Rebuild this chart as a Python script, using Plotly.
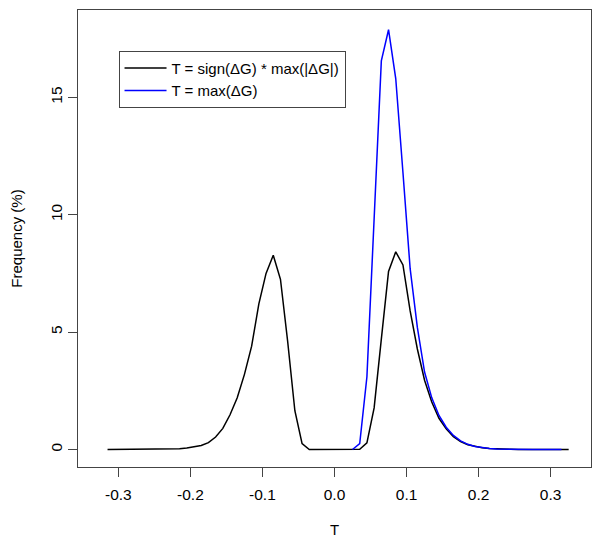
import plotly.graph_objects as go

# bin centres (step 0.01) and frequencies (%)
t_signed = [
    -0.315, -0.305, -0.295, -0.285, -0.275, -0.265, -0.255, -0.245, -0.235, -0.225,
    -0.215, -0.205, -0.195, -0.185, -0.175, -0.165, -0.155, -0.145, -0.135, -0.125,
    -0.115, -0.105, -0.095, -0.085, -0.075, -0.065, -0.055, -0.045, -0.035, -0.025,
    -0.015, -0.005, 0.005, 0.015, 0.025, 0.035, 0.045, 0.055, 0.065, 0.075,
    0.085, 0.095, 0.105, 0.115, 0.125, 0.135, 0.145, 0.155, 0.165, 0.175,
    0.185, 0.195, 0.205, 0.215, 0.225, 0.235, 0.245, 0.255, 0.265, 0.275,
    0.285, 0.295, 0.305, 0.315, 0.325,
]
freq_signed = [
    0.0, 0.0, 0.0, 0.0, 0.0, 0.0, 0.0, 0.005, 0.01, 0.02,
    0.03, 0.06, 0.1, 0.17, 0.29, 0.53, 0.9, 1.48, 2.2, 3.2,
    4.4, 6.2, 7.5, 8.27, 7.25, 4.6, 1.65, 0.25, 0.0, 0.0,
    0.0, 0.0, 0.0, 0.0, 0.0, 0.01, 0.28, 1.77, 4.7, 7.58,
    8.42, 7.86, 5.9, 4.28, 2.95, 2.02, 1.33, 0.88, 0.55, 0.34,
    0.2, 0.12, 0.07, 0.04, 0.02, 0.01, 0.005, 0.0, 0.0, 0.0,
    0.0, 0.0, 0.0, 0.0, 0.0,
]

t_max = [
    0.025, 0.035, 0.045, 0.055, 0.065, 0.075, 0.085, 0.095, 0.105, 0.115,
    0.125, 0.135, 0.145, 0.155, 0.165, 0.175, 0.185, 0.195, 0.205, 0.215,
    0.225, 0.235, 0.245, 0.255, 0.265, 0.275, 0.285, 0.295, 0.305, 0.315,
]
freq_max = [
    0.0, 0.25, 3.1, 10.0, 16.55, 17.88, 15.8, 11.8, 7.7, 5.2,
    3.3, 2.2, 1.45, 0.95, 0.6, 0.37, 0.22, 0.13, 0.08, 0.04,
    0.02, 0.01, 0.005, 0.0, 0.0, 0.0, 0.0, 0.0, 0.0, 0.0,
]

x_ticks = [-0.3, -0.2, -0.1, 0.0, 0.1, 0.2, 0.3]
y_ticks = [0, 5, 10, 15]

font = "Liberation Sans, Arial, sans-serif"

fig = go.Figure()
fig.add_trace(
    go.Scatter(
        x=t_signed,
        y=freq_signed,
        mode="lines",
        name="T = sign(\u0394G) * max(|\u0394G|)",
        line=dict(color="black", width=1.5),
    )
)
fig.add_trace(
    go.Scatter(
        x=t_max,
        y=freq_max,
        mode="lines",
        name="T = max(\u0394G)",
        line=dict(color="#0000ff", width=1.5),
    )
)

axis_common = dict(
    showgrid=False,
    zeroline=False,
    showline=True,
    linecolor="#444",
    linewidth=1,
    mirror=True,
    ticks="outside",
    ticklen=9,
    tickcolor="#444",
    automargin=False,
    tickfont=dict(family=font, size=15.5, color="black"),
)

fig.update_layout(
    width=601,
    height=543,
    paper_bgcolor="white",
    plot_bgcolor="white",
    margin=dict(l=78, r=10, t=10, b=76),
    font=dict(family=font, size=14, color="black"),
    xaxis=dict(
        range=[-0.356, 0.356],
        tickvals=x_ticks,
        ticktext=[f"{v:.1f}" for v in x_ticks],
        ticklabelstandoff=4,
        title=dict(text="T", standoff=22, font=dict(family=font, size=15)),
        **axis_common,
    ),
    yaxis=dict(
        range=[-0.746, 18.72],
        tickvals=y_ticks,
        tickangle=-90,
        ticklabelstandoff=0,
        title=dict(text="Frequency (%)", standoff=21, font=dict(family=font, size=15)),
        **axis_common,
    ),
    legend=dict(
        x=0.079,
        y=0.911,
        xanchor="left",
        yanchor="top",
        bordercolor="#444",
        borderwidth=1,
        bgcolor="white",
        font=dict(family=font, size=15),
        itemwidth=42,
        tracegroupgap=0,
    ),
    showlegend=True,
)

# page body has a default 8px margin; drop it so the figure sits at 0,0
fig.write_html(
    "out.html",
    config={"displayModeBar": False},
    post_script="document.body.style.margin='0px';",
)
